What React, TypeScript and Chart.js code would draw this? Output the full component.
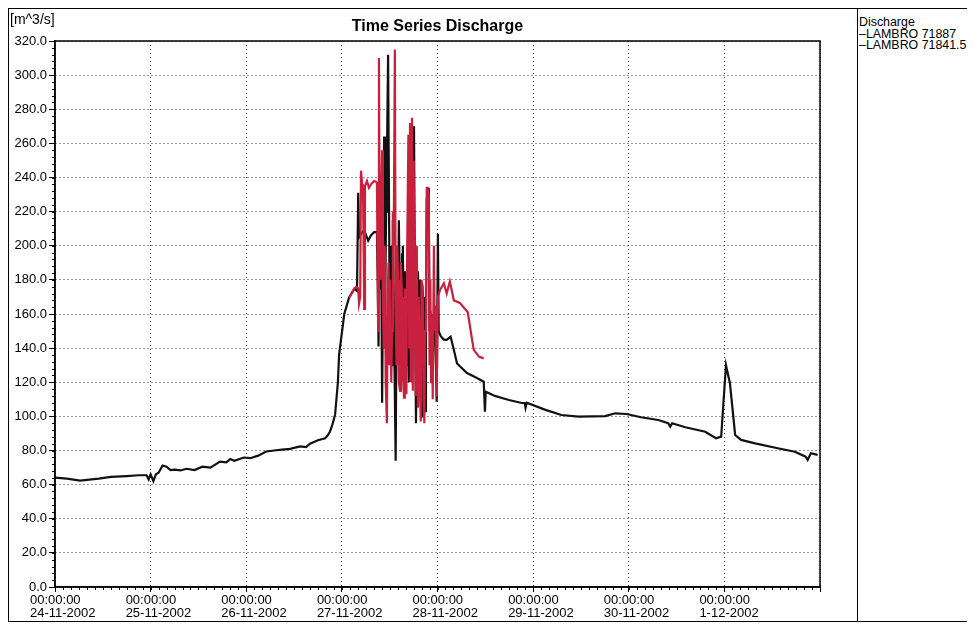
import React, { useEffect, useRef } from 'react';
import { Chart, registerables } from 'chart.js';

Chart.register(...registerables);

const chartTitle = 'Time Series Discharge';
const yUnitLabel = '[m^3/s]';
const legendTitle = 'Discharge';
const seriesNames = ['LAMBRO 71887', 'LAMBRO 71841.5'];
const timeOfDayLabel = '00:00:00';
const dayLabels = ['24-11-2002', '25-11-2002', '26-11-2002', '27-11-2002', '28-11-2002', '29-11-2002', '30-11-2002', '1-12-2002'];
const yMin = 0;
const yMax = 320;
const yStep = 20;
const hoursTotal = 192;

// LAMBRO 71887 (black): hours since 24-11-2002 00:00 and discharge
const blackHours = [
  0, 3, 6.3, 11, 14, 18, 21, 23, 23.5, 24, 24.7, 25.3, 26, 27, 28, 29, 30, 31.5, 33, 35, 37, 39, 41.4, 43, 44, 45, 47.4, 49, 51, 53, 55, 57, 59, 61.5, 63, 64, 66, 67.8, 68.5, 69, 69.6, 70.3, 71, 71.3, 72.6, 73.8, 75.1, 75.8,
  76.1, 76.3, 76.8, 77.6, 78.6, 79.3, 80.1,
  80.8, 81.0, 81.2, 81.4, 81.6, 81.8, 82.1, 82.4, 82.6, 82.8, 83.1, 83.3, 83.6, 84.0, 84.3, 84.6, 84.8, 85.1, 85.5, 85.8, 86.0, 86.3, 86.6, 86.8, 87.1, 87.3, 87.6, 87.8, 88.1, 88.3, 88.6, 88.8, 89.1, 89.3, 89.6, 89.8, 90.1, 90.3, 90.6, 90.9, 91.1, 91.4, 91.6, 91.9, 92.1, 92.4, 92.6, 92.9, 93.1, 93.3, 93.8, 94.0, 94.3, 94.8, 95.3, 95.6, 95.8, 96.1, 96.3,
  96.8, 97.6, 98.3, 99.3, 100.1, 100.9, 103.4, 105.9, 107.6, 107.9, 108.1,
  110.4, 113.9, 116.9, 117.9, 118.1, 118.4, 123.1, 127.1, 131.4, 138.1, 140.6, 143.4, 147.1, 151.4, 153.9, 154.4, 154.9, 158.2, 163.2, 165.9, 167.2, 168.4, 169.4, 170.7, 172.2, 175.7, 181.4, 185.7, 188.4, 188.9, 189.7, 191.4
];
const blackValues = [
  64.1, 63.5, 62.4, 63.5, 64.5, 65, 65.5, 65.5, 63, 66, 62, 66, 67, 71.2, 70.5, 68.5, 68.8, 68.3, 69.3, 68.5, 70.5, 70, 73.5, 73, 75, 74, 75.9, 75.5, 77, 79.4, 80, 80.5, 81, 82.4, 82, 84, 86, 87.2, 89, 91, 95, 101, 120, 136, 160, 169.6, 174.7, 173.5,
  231, 205, 207, 209, 203, 206, 208,
  208, 180, 141, 200, 175, 230, 108, 200, 264, 150, 220, 250, 312, 160, 200, 130, 215, 150, 74, 190, 140, 215, 160, 115, 195, 200, 140, 185, 130, 182, 150, 120, 186, 170, 190, 140, 270, 190, 96, 175, 185, 130, 180, 100, 178, 170, 164, 103, 140, 227, 234, 150, 160, 155, 150, 130, 108.6, 207, 150,
  147, 145, 144.8, 146.7, 139, 131, 125.4, 122.5, 120.3, 102.8, 114.5,
  112, 109.6, 108, 107.7, 105, 108, 103.8, 100.8, 99.8, 100.2, 101.8, 101.4, 99.5, 97.9, 96, 94, 96, 93.6, 91, 87.2, 88.1, 130, 119.4, 89.1, 86.2, 84.2, 81.3, 79.3, 76.4, 74.5, 78.4, 77.4
];

// LAMBRO 71841.5 (red)
const redHours = [
  73.8, 75.1, 75.6, 76.1, 76.3, 76.6, 76.8, 77.1, 77.3, 77.6, 77.8, 78.3, 78.8, 79.3, 80.1,
  80.8, 81.1, 81.3, 81.5, 81.7, 81.9, 82.1, 82.3, 82.5, 82.8, 83.0, 83.3, 83.5, 83.7, 83.9, 84.1, 84.4, 84.6, 84.8, 85.0, 85.3, 85.5, 85.7, 85.9, 86.1, 86.3, 86.6, 86.8, 87.1, 87.3, 87.6, 87.8, 88.0, 88.2, 88.4, 88.7, 88.9, 89.1, 89.3, 89.6, 89.8, 90.0, 90.3, 90.5, 90.8, 91.1, 91.3, 91.6, 91.8, 92.0, 92.3, 92.5, 92.7, 92.9, 93.1, 93.3, 93.5, 93.8, 94.0, 94.2, 94.4, 94.6, 94.8, 95.1, 95.3, 95.6, 95.8, 96.1,
  96.6, 97.6, 98.3, 99.1, 100.1, 101.6, 103.6, 104.4, 105.1, 106.4, 107.6
];
const redValues = [
  169.6, 174.7, 176, 175, 166, 170, 244, 236, 235, 163, 235, 238, 234, 236, 238,
  237, 150, 310, 200, 180, 230, 256, 170, 140, 200, 120, 96, 170, 190, 130, 180, 120, 150, 220, 200, 315, 160, 130, 200, 180, 120, 115, 190, 170, 125, 111, 175, 160, 113, 200, 265, 140, 272, 120, 275, 115, 250, 180, 112, 200, 105, 170, 120, 97, 180, 175, 110, 96, 150, 170, 234, 234, 230, 130, 180, 120, 160, 110, 200, 150, 165, 111.5, 170,
  174, 178, 172, 179, 168, 166.5, 161, 149, 139, 135, 134
];

const FONT = "'Liberation Sans', Arial, Helvetica, sans-serif";

const framePlugin = {
  id: 'frameAndMinorTicks',
  afterDatasetsDraw(chart: any) {
    const { ctx, chartArea, scales } = chart;
    const xs = scales.x;
    const ys = scales.y;
    ctx.save();
    ctx.strokeStyle = '#000';
    ctx.lineWidth = 1;
    for (let h = 0; h <= hoursTotal; h += 2) {
      const px = Math.round(xs.getPixelForValue(h)) + 0.5;
      ctx.beginPath();
      ctx.moveTo(px, chartArea.bottom);
      ctx.lineTo(px, chartArea.bottom + 3);
      ctx.stroke();
    }
    for (let v = yMin; v <= yMax; v += 4) {
      const py = Math.round(ys.getPixelForValue(v)) + 0.5;
      ctx.beginPath();
      ctx.moveTo(chartArea.left - 3, py);
      ctx.lineTo(chartArea.left, py);
      ctx.stroke();
    }
    ctx.lineWidth = 1.5;
    ctx.strokeRect(chartArea.left, chartArea.top, chartArea.right - chartArea.left, chartArea.bottom - chartArea.top);
    ctx.restore();
  },
};

export default function App() {
  const canvasRef = useRef<HTMLCanvasElement | null>(null);

  useEffect(() => {
    if (!canvasRef.current) return;
    const blackData = blackHours.map((h, i) => ({ x: h, y: blackValues[i] }));
    const redData = redHours.map((h, i) => ({ x: h, y: redValues[i] }));
    const chart = new Chart(canvasRef.current, {
      type: 'line',
      data: {
        datasets: [
          {
            label: seriesNames[0],
            data: blackData,
            borderColor: '#111111',
            borderWidth: 2.2,
            pointRadius: 0,
            tension: 0,
            fill: false,
            order: 1,
          },
          {
            label: seriesNames[1],
            data: redData,
            borderColor: '#c8203e',
            borderWidth: 2.2,
            pointRadius: 0,
            tension: 0,
            fill: false,
            order: 0,
          },
        ],
      },
      options: {
        animation: false,
        responsive: false,
        maintainAspectRatio: false,
        layout: { padding: { top: 32, right: 37, bottom: 0, left: 0 } },
        plugins: {
          legend: { display: false },
          title: { display: false },
          tooltip: { enabled: false },
        },
        scales: {
          x: {
            type: 'linear',
            min: 0,
            max: hoursTotal,
            afterFit: (scale: any) => {
              scale.height = 34;
            },
            ticks: {
              stepSize: 24,
              autoSkip: false,
              maxRotation: 0,
              minRotation: 0,
              align: 'start',
              labelOffset: -25,
              padding: 2,
              color: '#000',
              font: { family: FONT, size: 13, lineHeight: 1.0 },
              callback: (v: any) => {
                const idx = Math.round(Number(v) / 24);
                if (idx >= dayLabels.length) return '';
                return [timeOfDayLabel, dayLabels[idx]];
              },
            },
            grid: {
              color: '#333',
              lineWidth: 1,
              drawTicks: true,
              tickLength: 5,
              tickColor: '#000',
            },
            border: { display: true, color: '#000', width: 1.5, dash: [1, 3] },
          },
          y: {
            min: yMin,
            max: yMax,
            afterFit: (scale: any) => {
              scale.width = 46;
            },
            ticks: {
              stepSize: yStep,
              autoSkip: false,
              padding: 2,
              color: '#000',
              font: { family: FONT, size: 13 },
              callback: (v: any) => Number(v).toFixed(1),
            },
            grid: {
              color: '#333',
              lineWidth: 1,
              drawTicks: true,
              tickLength: 6,
              tickColor: '#000',
            },
            border: { display: true, color: '#000', width: 1.5, dash: [1, 3] },
          },
        },
      },
      plugins: [framePlugin],
    } as any);
    return () => chart.destroy();
  }, []);

  return (
    <div
      style={{
        position: 'relative',
        width: 959,
        height: 612,
        borderTop: '1px solid #000',
        borderLeft: '1px solid #000',
        borderBottom: '1px solid #000',
        background: '#fff',
        fontFamily: FONT,
        color: '#000',
      }}
    >
      <canvas ref={canvasRef} width={848} height={612} style={{ position: 'absolute', left: 0, top: 0 }} />
      <div style={{ position: 'absolute', left: 1, top: 3, fontSize: 14, lineHeight: '15px' }}>{yUnitLabel}</div>
      <div
        style={{
          position: 'absolute',
          left: 46,
          width: 765,
          top: 8,
          textAlign: 'center',
          fontSize: 16,
          fontWeight: 'bold',
          lineHeight: '17px',
        }}
      >
        {chartTitle}
      </div>
      <div style={{ position: 'absolute', left: 848, top: 0, bottom: 0, width: 1, background: '#000' }} />
      <div style={{ position: 'absolute', left: 850, top: 8, fontSize: 12.4, lineHeight: '11.5px', whiteSpace: 'nowrap' }}>
        <div>{legendTitle}</div>
        <div>{'\u2013' + seriesNames[0]}</div>
        <div>{'\u2013' + seriesNames[1]}</div>
      </div>
    </div>
  );
}
